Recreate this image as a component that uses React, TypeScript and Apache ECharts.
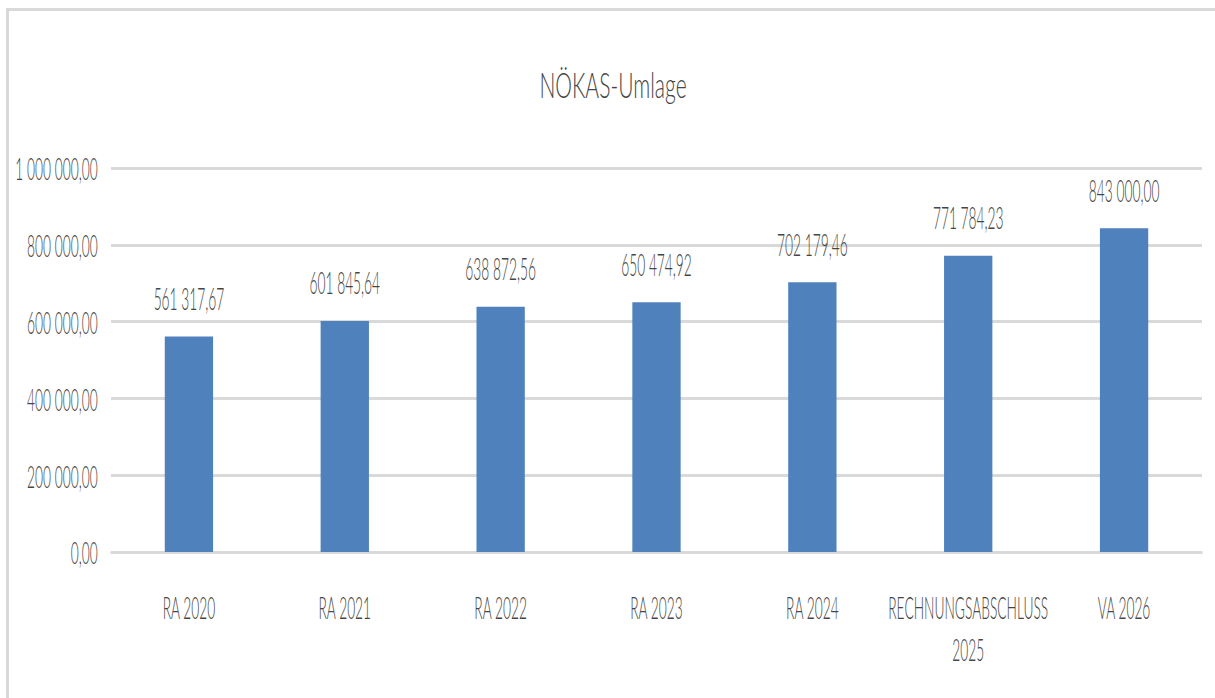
import React, { useEffect, useRef } from "react";
import * as echarts from "echarts";

const title = "NÖKAS-Umlage";
const categories = ["RA 2020", "RA 2021", "RA 2022", "RA 2023", "RA 2024", "RECHNUNGSABSCHLUSS 2025", "VA 2026"];
const values = [561317.67, 601845.64, 638872.56, 650474.92, 702179.46, 771784.23, 843000.0];
const yMin = 0;
const yMax = 1000000;
const yInterval = 200000;

// The reference's text is strongly condensed horizontally: draw the chart wider
// and squeeze it with a CSS horizontal scale.
const SX = 0.43;
const W = 1215;
const H = 698;
const IW = Math.round(W / SX);

const FONT = "Lato, 'Open Sans', sans-serif";
const TEXT = "#454545";
const GRID = "#d9d9d9";
const WEIGHT = 300;

function fmt(v: number): string {
  const [i, d] = v.toFixed(2).split(".");
  const withSep = i.replace(/\B(?=(\d{3})+(?!\d))/g, " ");
  return withSep + "," + d;
}

export default function App() {
  const ref = useRef<HTMLDivElement>(null);
  useEffect(() => {
    if (!ref.current) return;
    const chart = echarts.init(ref.current, undefined, { renderer: "svg" });
    chart.setOption({
      animation: false,
      backgroundColor: "transparent",
      graphic: [
        {
          type: "text",
          x: 613 / SX,
          y: 84,
          scaleX: 1.4,
          silent: true,
          style: {
            text: title,
            fill: TEXT,
            font: `${WEIGHT} 35px ${FONT}`,
            textAlign: "center",
            textVerticalAlign: "middle",
          },
        },
      ],
      grid: {
        left: 111 / SX,
        right: IW - 1202 / SX,
        top: 168,
        bottom: H - 552,
        containLabel: false,
        outerBoundsMode: "none",
      },
      xAxis: {
        type: "category",
        data: categories,
        axisLine: { show: true, lineStyle: { color: GRID, width: 3 } },
        axisTick: { show: false },
        axisLabel: {
          margin: 34,
          fontFamily: FONT,
          fontWeight: WEIGHT,
          fontSize: 32,
          color: TEXT,
          lineHeight: 42,
          interval: 0,
          formatter: (v: string) => (v.length > 15 ? v.replace(" ", "\n") : v),
        },
      },
      yAxis: {
        type: "value",
        min: yMin,
        max: yMax,
        interval: yInterval,
        axisLine: { show: false },
        axisTick: { show: false },
        splitLine: { lineStyle: { color: GRID, width: 3 } },
        axisLabel: {
          margin: 31,
          fontFamily: FONT,
          fontWeight: WEIGHT,
          fontSize: 32,
          color: TEXT,
          formatter: (v: number) => fmt(v),
        },
      },
      series: [
        {
          type: "bar",
          data: values,
          barWidth: "31%",
          itemStyle: { color: "#4f81bd" },
          label: {
            show: true,
            position: "top",
            distance: 23,
            fontFamily: FONT,
            fontWeight: WEIGHT,
            fontSize: 32,
            color: TEXT,
            formatter: (p: any) => fmt(p.value),
          },
        },
      ],
    });
    return () => chart.dispose();
  }, []);
  return (
    <div
      style={{
        position: "fixed",
        left: 0,
        top: 0,
        width: W,
        height: H,
        overflow: "hidden",
        background: "#ffffff",
      }}
    >
      <div
        style={{
          position: "absolute",
          left: 6,
          top: 8,
          width: W,
          height: H,
          borderTop: `3px solid ${GRID}`,
          borderLeft: `3px solid ${GRID}`,
          boxSizing: "border-box",
        }}
      />
      <div
        ref={ref}
        style={{
          position: "absolute",
          left: 0,
          top: 0,
          width: IW,
          height: H,
          transform: `scaleX(${SX})`,
          transformOrigin: "0 0",
        }}
      />
    </div>
  );
}
